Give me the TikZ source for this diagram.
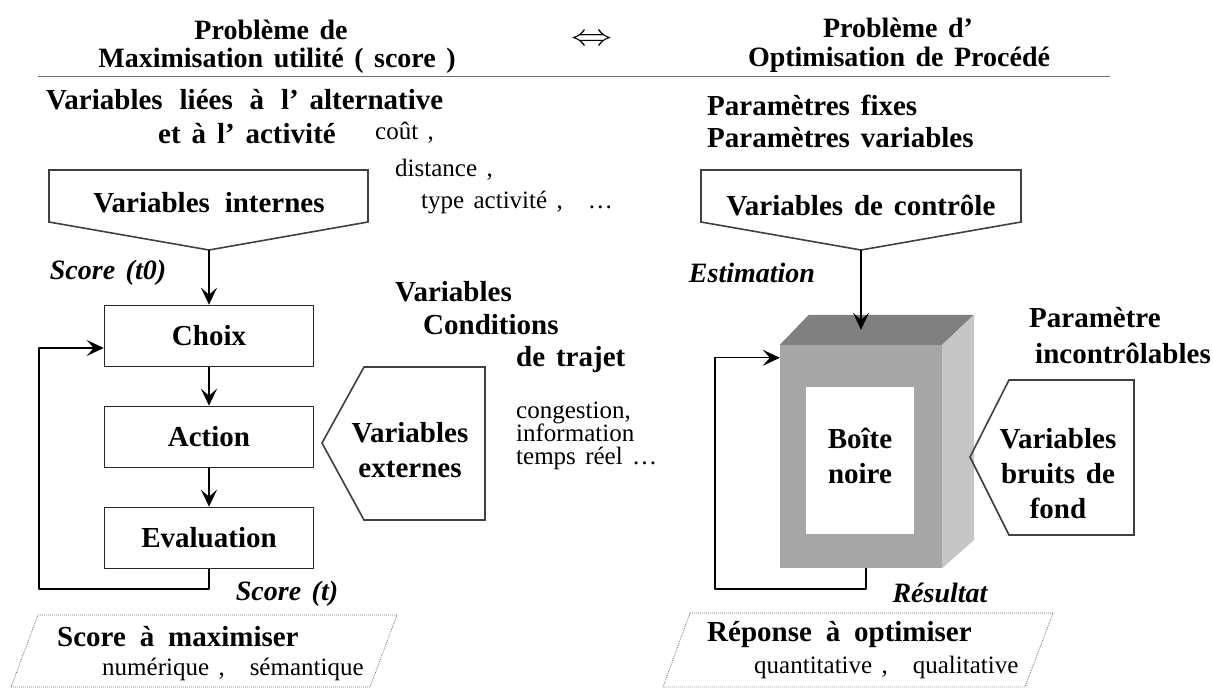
\documentclass[tikz,border=0pt]{standalone}
\usepackage{fontspec}
\setmainfont{Liberation Serif}[WordSpace=1.5]
\usetikzlibrary{arrows.meta,positioning}
\definecolor{topgray}{HTML}{808080}
\definecolor{frontgray}{HTML}{A6A6A6}
\definecolor{sidegray}{HTML}{C6C6C6}
\definecolor{rulegray}{HTML}{707070}
\tikzset{
  titletext/.style={font=\fontsize{28}{35}\selectfont\bfseries, inner sep=0pt},
  boldtext/.style={font=\fontsize{29}{35}\selectfont\bfseries, inner sep=0pt, align=center},
  plaintext/.style={font=\fontsize{25}{23}\selectfont, inner sep=0pt, align=left},
  italictext/.style={font=\fontsize{28}{30}\selectfont\bfseries\itshape, inner sep=0pt},
  block/.style={draw=black!85, line width=1.6pt, minimum width=209pt, minimum height=61pt, boldtext},
  shield/.style={draw=black!75, line width=1.6pt, line join=miter},
  flow/.style={-{Stealth[length=17pt,width=16pt,inset=7pt]}, line width=1.2pt},
  dotbox/.style={draw=black!60, dash pattern=on 0.8pt off 1.2pt, line width=0.8pt}
}
\begin{document}
\begin{tikzpicture}[x=1pt,y=-1pt, line join=round]
	\fill[white] (0,0) rectangle (1213,688);
	\useasboundingbox (0,0) rectangle (1213,688);
	
	% 1. Titles and rule
	\node[titletext] (titleL1) at (271,30) {Problème de};
	\node[titletext] (titleL2) at (277,61) {Maximisation utilité ( score )};
	\node (equiv) at (592,40) {\fontsize{28}{30}\selectfont\scalebox{1.65}[1.2]{$\Leftrightarrow$}};
	\node[titletext] (titleR1) at (898,28) {Problème d’};
	\node[titletext] (titleR2) at (899,60) {Optimisation de Procédé};
	\draw[rulegray, line width=1pt] (38,76) -- (1110,76);
	
	% 2. Left side: score maximisation
	\node[boldtext, anchor=west] (liees) at (46,100) {Variables\hspace{6pt} liées\hspace{6pt} à\hspace{6pt} l’ alternative};
	\node[boldtext] (activite) at (247,134) {et à l’ activité};
	\node[plaintext, anchor=west] (cout) at (375,133) {coût ,};
	\node[plaintext, anchor=west] (distance) at (395,170) {distance ,};
	\node[plaintext, anchor=west] (typeact) at (421,203) {type activité ,\quad …};
	
	% Internal variables (pointing down)
	\draw[shield] (49,170) -- (368,170) -- (368,222) -- (209,250) coordinate (internesTip) -- (49,222) -- cycle;
	\node[boldtext] (internes) at (209,203) {Variables\hspace{4pt} internes};
	\node[italictext] (scoreT0) at (108,273) {Score (t0)};
	
	% Decision loop
	\node[block] (choix) at (209,336) {Choix};
	\node[block] (action) at (209,437) {Action};
	\node[block] (evaluation) at (209,538) {Evaluation};
	\draw[flow] (internesTip) -- (choix);
	\draw[flow] (choix) -- (action);
	\draw[flow] (action) -- (evaluation);
	\coordinate (loopL) at (39,589);
	\draw[flow] (evaluation.south) |- (loopL) |- ([yshift=-12pt]choix.west);
	\node[italictext] (scoreT) at (287,594) {Score (t)};
	
	% External variables (pointing left)
	\node[boldtext, anchor=west] (condV) at (395,292) {Variables};
	\node[boldtext, anchor=west] (condC) at (423,325) {Conditions};
	\node[boldtext, anchor=west] (condT) at (516,360) {de trajet};
	\draw[shield] (364,367) -- (485,367) -- (485,520) -- (364,520) -- (322,443) -- cycle;
	\node[boldtext] (externes) at (410,450) {Variables\\externes};
	\node[plaintext, anchor=north west] (congestion) at (516,402) {congestion,\\information\\temps réel …};
	
	% Score to maximise
	\draw[dotbox] (38,615) -- (397,615) -- (370,687) -- (11,687) -- cycle;
	\node[boldtext, anchor=west] (scoreMax) at (57,637) {Score\hspace{3pt} à\hspace{3pt} maximiser};
	\node[plaintext, anchor=west] (numerique) at (102,669) {numérique ,\quad sémantique};
	
	% 3. Right side: process optimisation
	\node[boldtext, anchor=west] (fixes) at (707,105) {Paramètres fixes};
	\node[boldtext, anchor=west] (variables) at (707,138) {Paramètres variables};
	\draw[shield] (701,170) -- (1021,170) -- (1021,222) -- (861,250) coordinate (controleTip) -- (701,222) -- cycle;
	\node[boldtext] (controle) at (861,205) {Variables de contrôle};
	\node[italictext] (estimation) at (752,273) {Estimation};
	
	% Black box (3D)
	\node[fill=frontgray, minimum width=162pt, minimum height=223pt, inner sep=0pt] (blackbox) at (861,456.5) {};
	\fill[topgray] (blackbox.north west) -- ++(29,-30) -- ++(165,0) -- (blackbox.north east) -- cycle;
	\fill[sidegray] (blackbox.north east) -- ++(32,-30) -- ++(0,225) -- (blackbox.south east) -- cycle;
	\fill[white] (806,387) rectangle (914,534);
	\node[boldtext] (boite) at (860,456) {Boîte\\noire};
	\draw[flow] (controleTip) -- ([yshift=15pt]blackbox.north);
	\coordinate (loopR) at (715,589);
	\draw[flow] ([xshift=5pt]blackbox.south) |- (loopR) |- ([yshift=-13pt]blackbox.north west);
	\node[italictext] (resultat) at (940,593) {Résultat};
	
	% Noise variables (pointing left)
	\node[boldtext, anchor=west] (param) at (1029,318) {Paramètre};
	\node[boldtext, anchor=west] (incontrolables) at (1035,353) {incontrôlables};
	\draw[shield] (1009,380) -- (1134,380) -- (1134,535) -- (1009,535) -- (970,457) -- cycle;
	\node[boldtext] (bruits) at (1058,474) {Variables\\bruits de\\fond};
	
	% Response to optimise
	\draw[dotbox] (690,613) -- (1053,613) -- (1025,687) -- (663,687) -- cycle;
	\node[boldtext, anchor=west] (reponse) at (707,635) {Réponse\hspace{3pt} à\hspace{3pt} optimiser};
	\node[plaintext, anchor=west] (quanti) at (754,667) {quantitative ,\quad qualitative};
\end{tikzpicture}
\end{document}
